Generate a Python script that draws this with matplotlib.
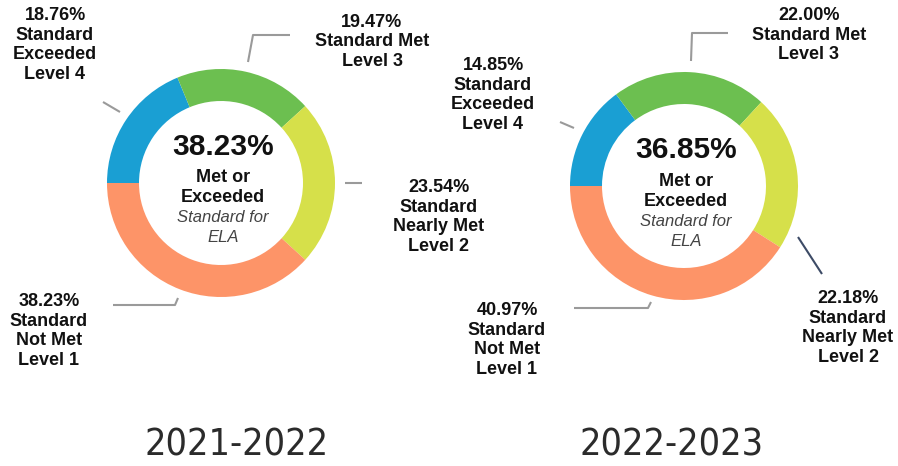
import matplotlib.pyplot as plt
from matplotlib import font_manager
from matplotlib.patches import Rectangle

plt.rcParams["font.family"] = ["Liberation Sans", "DejaVu Sans"]

# data
levels = ["Standard\nExceeded\nLevel 4", "Standard Met\nLevel 3",
          "Standard\nNearly Met\nLevel 2", "Standard\nNot Met\nLevel 1"]
colors = ["#1a9fd3", "#6cbf50", "#d6e04a", "#fd9468"]
years = ["2021-2022", "2022-2023"]
pct_2122 = [18.76, 19.47, 23.54, 38.23]
pct_2223 = [14.85, 22.00, 22.18, 40.97]
met_or_exceeded = [38.23, 36.85]

W, H = 898, 466
fig = plt.figure(figsize=(W / 100, H / 100), dpi=100)
ax = fig.add_axes([0, 0, 1, 1])

# layout (pixel coords, y down)
centers = [(221, 183), (684, 186)]
R = 114
ring_w = 32
label_pos = [
    [(55, 45), (372, 42), (439, 217), (49, 331)],
    [(493, 95), (809, 35), (848, 328), (507, 340)],
]
leaders = [
    [[(103, 102), (120, 112)], [(290, 35), (253, 35), (248, 62)],
     [(345, 183), (362, 183)], [(113, 305), (175, 305), (178, 298)]],
    [[(560, 122), (574, 128)], [(728, 33), (692, 33), (691, 61)],
     [(798, 237), (822, 274)], [(574, 308), (648, 308), (651, 302)]],
]
leader_colors = [["#9a9a9a"] * 4, ["#9a9a9a", "#9a9a9a", "#3d4b66", "#9a9a9a"]]
year_x = [237, 672]

# condensed font for the year captions, if there is one
cond = font_manager.findfont(font_manager.FontProperties(family="DejaVu Sans", stretch="condensed"))
if "Condensed" in cond:
    year_font = dict(family="DejaVu Sans", stretch="condensed", fontsize=27)
else:
    year_font = dict(family="Liberation Sans", fontsize=27.5)

clip = Rectangle((0, 0), 430, H, transform=ax.transData)

for i, vals in enumerate([pct_2122, pct_2223]):
    cx, cy = centers[i]
    ax.pie(vals, colors=colors, center=(cx, cy), radius=R, startangle=180,
           counterclock=True, wedgeprops=dict(width=ring_w, linewidth=0))
    # centre text
    ax.text(cx + 2, cy - 36, f"{met_or_exceeded[i]:.2f}%", ha="center", va="center",
            fontsize=21.5, fontweight="bold", color="#111111")
    ax.text(cx + 2, cy - 5, "Met or", ha="center", va="center",
            fontsize=13, fontweight="bold", color="#111111")
    ax.text(cx + 2, cy + 15, "Exceeded", ha="center", va="center",
            fontsize=13, fontweight="bold", color="#111111")
    ax.text(cx + 2, cy + 35, "Standard for", ha="center", va="center",
            fontsize=12, style="italic", color="#444444")
    ax.text(cx + 2, cy + 55, "ELA", ha="center", va="center",
            fontsize=12, style="italic", color="#444444")
    # outer labels
    for j, v in enumerate(vals):
        lx, ly = label_pos[i][j]
        t = ax.text(lx, ly, f"{v:.2f}%\n{levels[j]}", ha="center", va="center",
                    fontsize=13, fontweight="bold", color="#111111", linespacing=1.2)
        if i == 0 and j == 1:
            t.set_clip_path(clip)
        pts = leaders[i][j]
        ax.plot([p[0] for p in pts], [p[1] for p in pts],
                color=leader_colors[i][j], lw=1.5, solid_capstyle="butt")
    ax.text(year_x[i], 445, years[i], ha="center", va="center",
            color="#2b2b2b", **year_font)

ax.set_xlim(0, W)
ax.set_ylim(H, 0)
ax.set_aspect("equal")
ax.axis("off")

fig.savefig("out.png", dpi=100)
